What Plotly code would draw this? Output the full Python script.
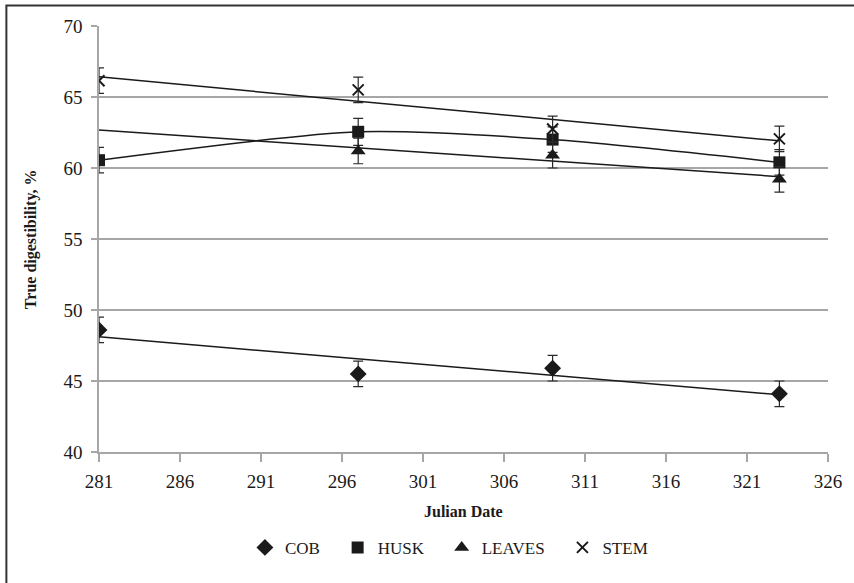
import numpy as np
import plotly.graph_objects as go

# ---- data ----
cob_x = [281, 297, 309, 323]
cob_y = [48.6, 45.5, 45.9, 44.1]
cob_err = [0.9, 0.9, 0.9, 0.9]

husk_x = [281, 297, 309, 323]
husk_y = [60.55, 62.55, 62.0, 60.4]
husk_err = [0.9, 0.95, 0.9, 0.9]

leaves_x = [297, 309, 323]
leaves_y = [61.2, 60.9, 59.2]
leaves_err = [0.9, 0.9, 0.9]

stem_x = [281, 297, 309, 323]
stem_y = [66.15, 65.5, 62.75, 62.05]
stem_err = [0.9, 0.9, 0.9, 0.9]

x_ticks = [281, 286, 291, 296, 301, 306, 311, 316, 321, 326]
y_ticks = [40, 45, 50, 55, 60, 65, 70]

FONT = "Liberation Serif"
NB = "\u00a0" * 3
fig = go.Figure()

# ---- linear trend lines (computed fits) ----
def trend(xs, ys, deg, x0=281, x1=323):
    c = np.polyfit(xs, ys, deg)
    xx = np.linspace(x0, x1, 60)
    return xx, np.polyval(c, xx)

for xs, ys in [(cob_x, cob_y), (leaves_x, leaves_y), (stem_x, stem_y)]:
    tx, ty = trend(xs, ys, 1)
    fig.add_trace(go.Scatter(x=tx, y=ty, mode="lines",
                             line=dict(color="#1a1a1a", width=1.5),
                             showlegend=False, hoverinfo="skip"))

# HUSK: smoothed line through the points
fig.add_trace(go.Scatter(x=husk_x, y=husk_y, mode="lines",
                         line=dict(color="#1a1a1a", width=1.5, shape="spline", smoothing=0.7),
                         showlegend=False, hoverinfo="skip"))

def err(e):
    return dict(type="data", array=e, visible=True, color="#2a2a2a",
                thickness=1.2, width=5)

fig.add_trace(go.Scatter(x=cob_x, y=cob_y, mode="markers", name="COB" + NB,
                         error_y=err(cob_err),
                         marker=dict(symbol="diamond", size=13, color="#1a1a1a")))
fig.add_trace(go.Scatter(x=husk_x, y=husk_y, mode="markers", name="HUSK" + NB,
                         error_y=err(husk_err),
                         marker=dict(symbol="square", size=12, color="#1a1a1a")))
fig.add_trace(go.Scatter(x=leaves_x, y=leaves_y, mode="markers", name="LEAVES" + NB,
                         error_y=err(leaves_err),
                         marker=dict(symbol="triangle-up", size=13, color="#1a1a1a")))
fig.add_trace(go.Scatter(x=stem_x, y=stem_y, mode="markers", name="STEM",
                         error_y=err(stem_err),
                         marker=dict(symbol="x-thin", size=11, color="#1a1a1a",
                                     line=dict(color="#1a1a1a", width=2))))

fig.update_layout(
    width=854, height=583,
    margin=dict(l=99, r=23, t=26, b=131),
    paper_bgcolor="white", plot_bgcolor="white",
    font=dict(family=FONT, color="#1a1a1a", size=16),
    showlegend=True,
    legend=dict(orientation="h", x=0.48, xanchor="center", y=-0.225, yanchor="middle",
                font=dict(family=FONT, size=17), itemwidth=30, tracegroupgap=0),
    xaxis=dict(range=[281, 326], tickvals=x_ticks, ticktext=[str(v) for v in x_ticks],
               showgrid=False, zeroline=False, showline=True, linecolor="#a6a6a6",
               linewidth=1.5, ticks="outside", ticklen=8, tickcolor="#a6a6a6",
               tickwidth=1.5, tickfont=dict(family=FONT, size=19), ticklabelstandoff=3),
    yaxis=dict(range=[40, 70], tickvals=y_ticks, showgrid=True, gridcolor="#a6a6a6",
               gridwidth=1.5, zeroline=False, showline=True, linecolor="#a6a6a6",
               linewidth=1.5, ticks="outside", ticklen=6, tickcolor="#a6a6a6",
               tickwidth=1.5, tickfont=dict(family=FONT, size=19), ticklabelstandoff=5),
    annotations=[
        dict(text="<b>True digestibility, %</b>", xref="paper", yref="paper",
             x=-0.093, y=0.5, xanchor="center", yanchor="middle", textangle=-90,
             showarrow=False, font=dict(family=FONT, size=16)),
        dict(text="<b>Julian Date</b>", xref="paper", yref="paper",
             x=0.5, y=-0.14, xanchor="center", yanchor="middle",
             showarrow=False, font=dict(family=FONT, size=16)),
    ],
    shapes=[
        dict(type="rect", xref="paper", yref="paper",
             x0=(6 - 99) / 732, x1=(870 - 99) / 732,
             y0=(452 - 600) / 426, y1=(452 - 5.5) / 426,
             line=dict(color="#333333", width=2), fillcolor="rgba(0,0,0,0)",
             layer="below"),
    ],
)

fig.write_html("out.html", config={"displayModeBar": False},
               post_script="document.body.style.margin='0';document.body.style.overflow='hidden';")
